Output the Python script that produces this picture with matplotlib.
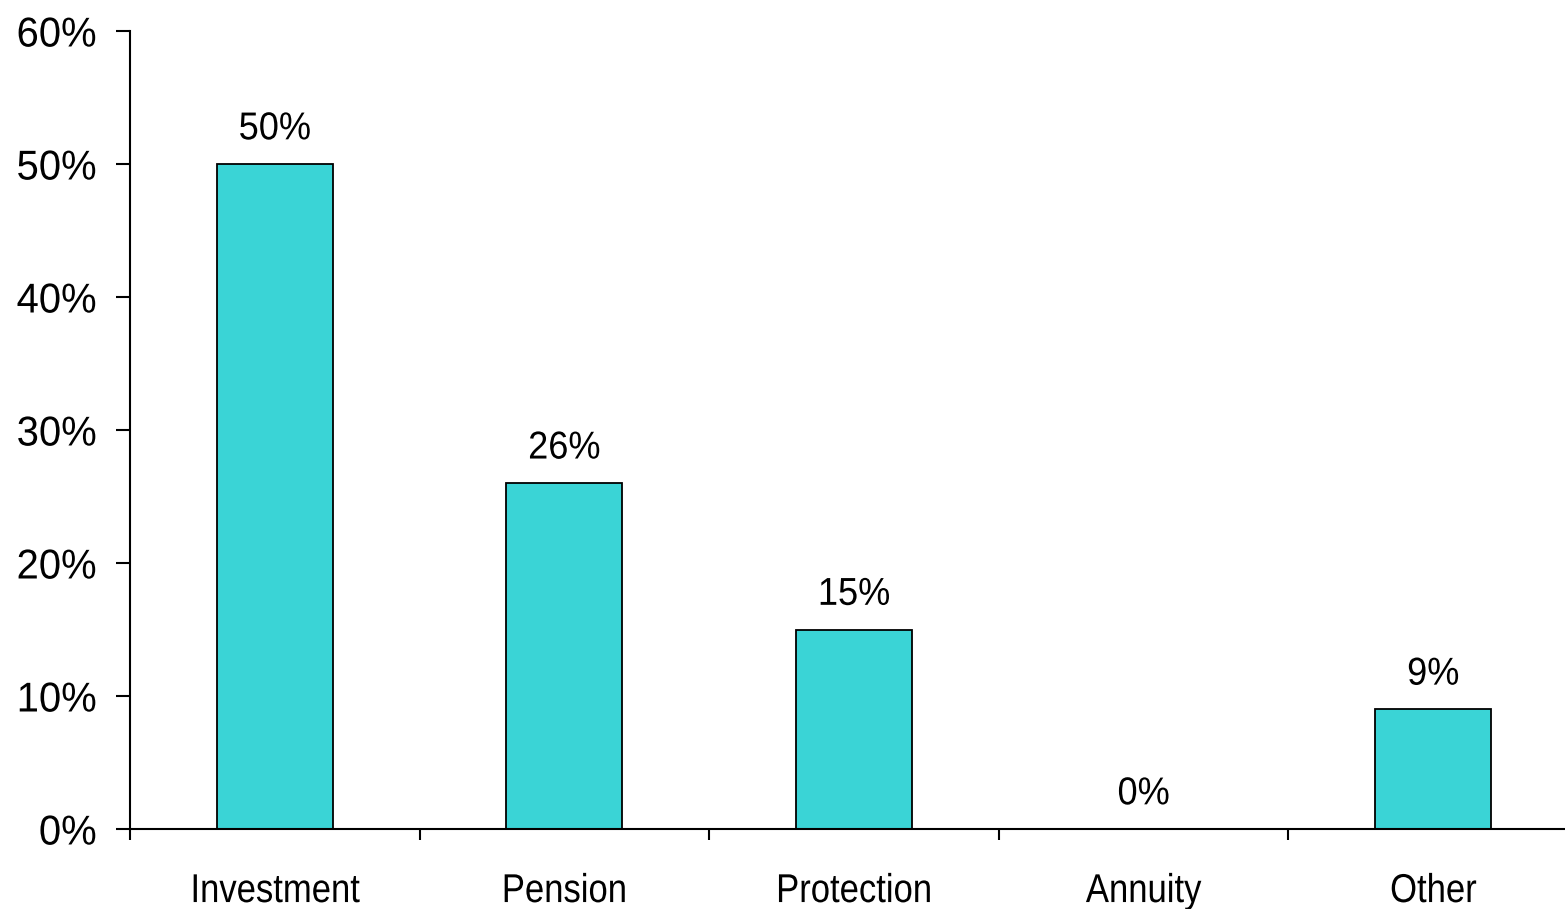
import numpy as np
import matplotlib
matplotlib.use('Agg')
import matplotlib.pyplot as plt
from matplotlib.ticker import FixedLocator, PercentFormatter
from matplotlib.patheffects import AbstractPathEffect
from matplotlib.transforms import Affine2D

plt.rcParams['font.family'] = ['Liberation Sans Narrow', 'Liberation Sans', 'DejaVu Sans']

categories = ['Investment', 'Pension', 'Protection', 'Annuity', 'Other']
shares = [50, 26, 15, 0, 9]
labels = ['50%', '26%', '15%', '0%', '9%']


# squeeze glyphs horizontally, the chart uses a narrow font that is not installed
class Narrow(AbstractPathEffect):
    def __init__(self, sx=0.86, anchor='center'):
        super().__init__()
        self.sx = sx
        self.anchor = anchor

    def draw_path(self, renderer, gc, tpath, affine, rgbFace=None):
        ext = tpath.get_extents()
        if self.anchor == 'right':
            cx = ext.x1
        else:
            cx = (ext.x0 + ext.x1) / 2
        t = Affine2D().translate(-cx, 0).scale(self.sx, 1).translate(cx, 0) + affine
        renderer.draw_path(gc, tpath, t, rgbFace)


fig = plt.figure(figsize=(15.65, 9.09), dpi=100)
ax = fig.add_axes([130/1565, 80/909, 1448/1565, 798/909])

x = np.arange(len(categories))
ax.bar(x, shares, width=0.4, color='#3AD4D6', edgecolor='black', linewidth=1.3)

for xi, v, lab in zip(x, shares, labels):
    ax.annotate(lab, (xi, v), xytext=(0, 12), textcoords='offset points',
                ha='center', va='bottom', fontsize=28,
                path_effects=[Narrow(0.93)])

ax.set_xlim(-0.5, len(categories) - 0.5)
ax.set_ylim(0, 60)
ax.set_yticks(np.arange(0, 61, 10))
ax.yaxis.set_major_formatter(PercentFormatter(decimals=0))

ax.xaxis.set_major_locator(FixedLocator(np.arange(-0.5, len(categories), 1)))
ax.xaxis.set_major_formatter(plt.NullFormatter())
ax.xaxis.set_minor_locator(FixedLocator(x))
ax.set_xticklabels(categories, minor=True)

ax.tick_params(axis='y', direction='out', length=10, width=1.5, labelsize=30, pad=14)
ax.tick_params(axis='x', which='major', direction='out', length=8, width=1.5)
ax.tick_params(axis='x', which='minor', length=0, labelsize=29, pad=31)

fig.canvas.draw()
for lab in ax.get_yticklabels():
    lab.set_path_effects([Narrow(0.96, 'right')])
for lab in ax.get_xticklabels(minor=True):
    lab.set_path_effects([Narrow(0.86)])

for s in ['top', 'right']:
    ax.spines[s].set_visible(False)
for s in ['left', 'bottom']:
    ax.spines[s].set_linewidth(1.5)

fig.savefig('out.png', dpi=100)
